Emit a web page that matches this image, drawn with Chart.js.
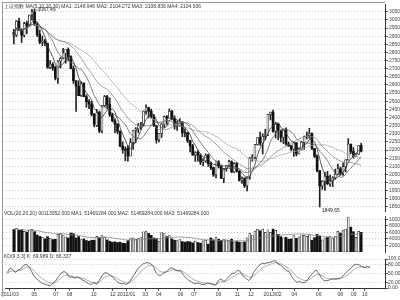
<!DOCTYPE html>
<html>
<head>
<meta charset="utf-8">
<script src="https://cdn.jsdelivr.net/npm/chart.js@4/dist/chart.umd.min.js"></script>
<style>
  body { margin: 0; background: #fff; width: 400px; height: 300px; overflow: hidden; position: relative; font-family: "Liberation Sans", Arial, sans-serif; }
  canvas { position: absolute; left: 0; }
  .lbl { position: absolute; left: 4px; font-size: 5px; line-height: 5px; color: #333; white-space: nowrap; }
  .rule { position: absolute; background: #999; }
</style>
</head>
<body>
<canvas id="priceChart" width="400" height="216" style="top:0"></canvas>
<canvas id="volChart" width="400" height="44" style="top:212px"></canvas>
<canvas id="kdChart" width="400" height="46" style="top:254px"></canvas>
<div class="rule" style="left:2px;top:2px;width:1px;height:295px"></div>
<div class="rule" style="left:2px;top:2px;width:383px;height:1px"></div>
<div class="lbl" style="top:4px">上证指数 MA(5,10,20,30) MA1: 2148.946 MA2: 2104.272 MA3: 2108.836 MA4: 2104.936</div>
<div class="lbl" style="top:211px">VOL(20,20,20) 90113052.000 MA1: 51469284.000 MA2: 51469284.000 MA3: 51469284.000</div>
<div class="lbl" style="top:254px">KD(9,3,3) K: 69.989 D: 66.337</div>
<script>
// weekly bars, Shanghai composite, 2011/02 - 2013/10
const weeks = [
  '2011/02/21','2011/02/28','2011/03/07','2011/03/14','2011/03/21','2011/03/28','2011/04/06','2011/04/11','2011/04/18','2011/04/25',
  '2011/05/03','2011/05/09','2011/05/16','2011/05/23','2011/05/30','2011/06/07','2011/06/13','2011/06/20','2011/06/27','2011/07/04',
  '2011/07/11','2011/07/18','2011/07/25','2011/08/01','2011/08/08','2011/08/15','2011/08/22','2011/08/29','2011/09/05','2011/09/13',
  '2011/09/19','2011/09/26','2011/10/10','2011/10/17','2011/10/24','2011/10/31','2011/11/07','2011/11/14','2011/11/21','2011/11/28',
  '2011/12/05','2011/12/12','2011/12/19','2011/12/26','2012/01/04','2012/01/09','2012/01/16','2012/01/30','2012/02/06','2012/02/13',
  '2012/02/20','2012/02/27','2012/03/05','2012/03/12','2012/03/19','2012/03/26','2012/04/05','2012/04/09','2012/04/16','2012/04/23',
  '2012/05/02','2012/05/07','2012/05/14','2012/05/21','2012/05/28','2012/06/04','2012/06/11','2012/06/18','2012/06/25','2012/07/02',
  '2012/07/09','2012/07/16','2012/07/23','2012/07/30','2012/08/06','2012/08/13','2012/08/20','2012/08/27','2012/09/03','2012/09/10',
  '2012/09/17','2012/09/24','2012/10/08','2012/10/15','2012/10/22','2012/10/29','2012/11/05','2012/11/12','2012/11/19','2012/11/26',
  '2012/12/03','2012/12/10','2012/12/17','2012/12/24','2012/12/31','2013/01/07','2013/01/14','2013/01/21','2013/01/28','2013/02/04',
  '2013/02/18','2013/02/25','2013/03/04','2013/03/11','2013/03/18','2013/03/25','2013/04/01','2013/04/08','2013/04/15','2013/04/22',
  '2013/05/02','2013/05/06','2013/05/13','2013/05/20','2013/05/27','2013/06/03','2013/06/13','2013/06/17','2013/06/24','2013/07/01',
  '2013/07/08','2013/07/15','2013/07/22','2013/07/29','2013/08/05','2013/08/12','2013/08/19','2013/08/26','2013/09/02','2013/09/09',
  '2013/09/16','2013/09/23','2013/09/30','2013/10/08','2013/10/14'
];
const open = [
  2925,2906,2993,2940,2905,2981,2970,3032,3049,2972,
  2912,2863,2870,2855,2708,2727,2706,2640,2746,2762,
  2795,2818,2775,2700,2626,2593,2535,2612,2528,2497,
  2482,2420,2350,2431,2317,2473,2528,2481,2416,2380,
  2360,2315,2224,2205,2212,2163,2245,2320,2330,2351,
  2357,2439,2460,2439,2404,2349,2262,2302,2359,2406,
  2396,2438,2394,2345,2350,2373,2308,2306,2260,2225,
  2170,2185,2168,2125,2133,2168,2116,2092,2047,2128,
  2102,2026,2086,2104,2128,2066,2117,2069,2014,2026,
  1980,2033,2150,2153,2233,2276,2243,2284,2292,2419,
  2433,2314,2359,2319,2278,2328,2237,2225,2206,2245,
  2177,2205,2247,2283,2288,2301,2210,2162,2073,1979,
  2007,2039,1992,2010,2029,2052,2085,2057,2098,2139,
  2236,2191,2160,2175,2228
];
const high = [
  2942,2997,3012,2945,2986,2993,3030,3065,3067.46,2986,
  2938,2900,2880,2858,2750,2738,2716,2750,2771,2826,
  2820,2828,2780,2717,2626,2626,2620,2612,2539,2510,
  2500,2425,2450,2440,2474,2536,2536,2520,2426,2392,
  2362,2318,2250,2220,2227,2271,2320,2338,2364,2370,
  2441,2478,2464,2451,2419,2352,2302,2367,2409,2412,
  2453,2444,2410,2380,2393,2374,2330,2310,2260,2235,
  2190,2197,2176,2147,2177,2175,2126,2094,2128,2135,
  2104,2087,2106,2138,2134,2123,2124,2073,2035,2030,
  2037,2155,2172,2235,2276,2311,2300,2328,2420,2433,
  2445,2369,2363,2322,2330,2336,2249,2230,2249,2245,
  2210,2253,2285,2311,2334,2305,2210,2170,2074,2012,
  2063,2069,2046,2036,2083,2114,2096,2122,2141,2270,
  2237,2215,2178,2229,2242
];
const low = [
  2853,2898,2934,2861,2895,2915,2965,2998,2965,2898,
  2854,2842,2840,2703,2700,2690,2631,2610,2704,2760,
  2734,2747,2698,2610,2437,2534,2530,2528,2463,2455,
  2410,2342,2344,2307,2307,2466,2455,2406,2373,2307,
  2300,2220,2180,2134,2132,2163,2204,2244,2307,2327,
  2349,2420,2397,2396,2344,2242,2250,2277,2340,2355,
  2396,2385,2328,2320,2345,2282,2280,2246,2188,2167,
  2130,2132,2110,2102,2123,2100,2079,2038,2029,2090,
  2024,1999,2070,2096,2060,2060,2064,2008,1995,1969,
  1949,2020,2131,2146,2230,2229,2176,2263,2289,2385,
  2310,2273,2263,2250,2240,2230,2222,2195,2161,2163,
  2176,2200,2203,2268,2272,2202,2153,2065,1849.65,1958,
  1951,1988,1976,1975,2020,2049,2045,2044,2066,2137,
  2178,2150,2160,2172,2188
];
const close = [
  2905,2993,2944,2906,2977,2967,3030,3050,2975,2911,
  2863,2871,2858,2709,2728,2705,2642,2746,2762,2797,
  2820,2775,2701,2626,2593,2534,2612,2528,2497,2482,
  2420,2359,2431,2317,2473,2528,2481,2416,2380,2360,
  2315,2224,2205,2199,2163,2245,2319,2330,2351,2357,
  2439,2460,2439,2404,2349,2262,2302,2359,2406,2396,
  2438,2394,2345,2350,2373,2308,2306,2260,2225,2170,
  2185,2168,2125,2133,2168,2116,2092,2047,2128,2102,
  2026,2086,2104,2128,2066,2117,2069,2014,2026,1980,
  2033,2150,2153,2233,2276,2243,2284,2292,2419,2433,
  2314,2359,2319,2278,2328,2237,2225,2206,2245,2177,
  2205,2247,2283,2288,2301,2210,2162,2073,1979,2007,
  2039,1992,2010,2029,2052,2085,2057,2098,2139,2236,
  2191,2160,2175,2228,2193
];
// weekly volume, x10000
const volume = [
  6900,7200,6600,6800,6300,6100,6700,6900,6200,5200,
  4800,4500,4000,4700,4200,3800,3900,5400,5700,5200,
  4600,4300,5800,5600,4300,4700,3800,4000,3500,3300,
  3600,3600,4800,4400,5000,4600,3700,3300,3000,3100,
  2900,3000,2700,2600,3500,4100,4300,3900,4100,4400,
  6200,6400,5700,5100,4300,4100,3300,5900,5600,4700,
  5000,4000,3600,3500,3800,3200,3000,3200,3100,2800,
  3300,2900,2700,3400,3600,2400,4300,3700,4500,3900,
  3600,3800,3700,3600,3900,3100,3200,3000,2900,3100,
  4300,5800,5200,6400,6900,6500,7100,6000,6800,6000,
  7000,6600,5400,4700,4300,4500,3900,4000,5000,4200,
  4600,5200,5100,4800,5300,3600,4400,5400,4900,3700,
  4300,4500,4700,4100,4900,6300,5800,6700,7000,10500,
  7600,6200,4500,6300,6000
];
const maPeriods = [5, 10, 20, 30];
const maColors = ['#333', '#666', '#888', '#aaa'];
const priceTicks = [1850,1900,1950,2000,2050,2100,2150,2200,2250,2300,2350,2400,2450,2500,2550,2600,2650,2700,2750,2800,2850,2900,2950,3000,3050];
const volumeTicks = [2000, 4000, 6000, 8000, 10000];
const kdTicks = [0, 20, 50, 80, 100];
// week index -> month label on the time axis
const monthTicks = [
  [1,'2011/03'],[10,'05'],[18,'07'],[23,'08'],[32,'10'],[39,'12'],
  [44,'2012/01'],[51,'03'],[56,'04'],[64,'06'],[69,'07'],[78,'09'],[85,'11'],[90,'12'],
  [98,'2013/02'],[106,'04'],[115,'06'],[123,'08'],[128,'09'],[132,'10']
];

function movingAverage(arr, n) {
  return arr.map((v, i) => {
    const s = arr.slice(Math.max(0, i - n + 1), i + 1);
    return s.reduce((a, b) => a + b, 0) / s.length;
  });
}

// KD(9,3,3)
let kPrev = 50, dPrev = 50;
const kLine = [], dLine = [];
close.forEach((c, i) => {
  const from = Math.max(0, i - 8);
  const hh = Math.max(...high.slice(from, i + 1));
  const ll = Math.min(...low.slice(from, i + 1));
  const rsv = hh === ll ? 50 : (c - ll) / (hh - ll) * 100;
  kPrev = kPrev * 2 / 3 + rsv / 3;
  dPrev = dPrev * 2 / 3 + kPrev / 3;
  kLine.push(kPrev);
  dLine.push(dPrev);
});

const isUp = close.map((c, i) => c >= open[i]);
const xMin = -0.5, xMax = 139.5;
const tickFont = { family: '"Liberation Sans", Arial', size: 5 };

function rightAxis(extra) {
  return Object.assign({
    position: 'right',
    afterFit: s => { s.width = 15; },
    grid: { color: '#c8c8c8', tickLength: 3, tickColor: '#555' },
    border: { display: true, color: '#333', dash: [1, 2] },
    ticks: { font: tickFont, color: '#444', padding: 1, autoSkip: false, callback: v => String(v) }
  }, extra);
}

function xAxis(show) {
  return {
    type: 'linear', min: xMin, max: xMax, display: show,
    afterBuildTicks: s => { s.ticks = monthTicks.map(t => ({ value: t[0] })); },
    afterFit: s => { if (show) s.height = 12; },
    grid: { drawOnChartArea: false, tickLength: 3, color: '#555' },
    border: { color: '#333' },
    ticks: {
      font: tickFont, color: '#333', padding: 1, maxRotation: 0, autoSkip: false,
      callback: (v, i) => monthTicks[i] ? monthTicks[i][1] : ''
    }
  };
}

const baseOptions = {
  responsive: false, animation: false, devicePixelRatio: 1,
  plugins: { legend: { display: false }, tooltip: { enabled: false } }
};

const extremaLabels = {
  id: 'extremaLabels',
  afterDatasetsDraw(chart) {
    const { ctx, scales } = chart;
    const hi = high.indexOf(Math.max(...high));
    const lo = low.indexOf(Math.min(...low));
    ctx.save();
    ctx.font = '5px "Liberation Sans", Arial';
    ctx.fillStyle = '#222';
    ctx.strokeStyle = '#444';
    ctx.lineWidth = 0.6;
    let x = scales.x.getPixelForValue(hi), y = scales.y.getPixelForValue(high[hi]);
    ctx.beginPath(); ctx.moveTo(x + 1, y + 1); ctx.lineTo(x + 3, y + 1); ctx.stroke();
    ctx.textBaseline = 'middle';
    ctx.fillText(high[hi].toFixed(2), x + 3, y + 1);
    x = scales.x.getPixelForValue(lo); y = scales.y.getPixelForValue(low[lo]);
    ctx.textBaseline = 'top';
    ctx.fillText(low[lo].toFixed(2), x + 2, y + 1);
    ctx.restore();
  }
};

new Chart(document.getElementById('priceChart'), {
  data: {
    datasets: [
      {
        type: 'bar', grouped: false, order: 3, barThickness: 1,
        data: weeks.map((w, i) => ({ x: i, y: [low[i], high[i]] })),
        backgroundColor: '#222'
      },
      {
        type: 'bar', grouped: false, order: 2, barThickness: 2,
        data: weeks.map((w, i) => ({ x: i, y: [open[i], close[i]] })),
        backgroundColor: isUp.map(u => u ? '#fff' : '#111'),
        borderColor: '#222', borderWidth: isUp.map(u => u ? 0.7 : 0), borderSkipped: false
      },
      ...maPeriods.map((p, k) => ({
        type: 'line', order: 1,
        data: movingAverage(close, p).map((v, i) => ({ x: i, y: v })),
        borderColor: maColors[k], borderWidth: 0.8, pointRadius: 0, tension: 0
      }))
    ]
  },
  options: Object.assign({}, baseOptions, {
    layout: { padding: { left: 3, top: 3, bottom: 5, right: 0 } },
    scales: {
      x: xAxis(false),
      y: rightAxis({
        min: 1825, max: 3098,
        afterBuildTicks: s => { s.ticks = priceTicks.map(v => ({ value: v })); }
      })
    }
  }),
  plugins: [extremaLabels]
});

new Chart(document.getElementById('volChart'), {
  data: {
    datasets: [
      {
        type: 'bar', grouped: false, order: 2, barThickness: 2,
        data: volume.map((v, i) => ({ x: i, y: v })),
        backgroundColor: isUp.map(u => u ? '#fff' : '#111'),
        borderColor: '#222', borderWidth: isUp.map(u => u ? 0.7 : 0), borderSkipped: false
      },
      {
        type: 'line', order: 1,
        data: movingAverage(volume, 20).map((v, i) => ({ x: i, y: v })),
        borderColor: '#888', borderWidth: 0.8, pointRadius: 0
      }
    ]
  },
  options: Object.assign({}, baseOptions, {
    layout: { padding: { left: 3, top: 4, bottom: 2, right: 0 } },
    scales: {
      x: xAxis(false),
      y: rightAxis({
        min: 0, max: 11000,
        afterBuildTicks: s => { s.ticks = volumeTicks.map(v => ({ value: v })); }
      })
    }
  })
});

new Chart(document.getElementById('kdChart'), {
  type: 'line',
  data: {
    datasets: [
      { data: kLine.map((v, i) => ({ x: i, y: v })), borderColor: '#444', borderWidth: 0.8, pointRadius: 0 },
      { data: dLine.map((v, i) => ({ x: i, y: v })), borderColor: '#999', borderWidth: 0.8, pointRadius: 0 }
    ]
  },
  options: Object.assign({}, baseOptions, {
    layout: { padding: { left: 3, top: 5, bottom: 0, right: 0 } },
    scales: {
      x: xAxis(true),
      y: rightAxis({
        min: 0, max: 100,
        afterBuildTicks: s => { s.ticks = kdTicks.map(v => ({ value: v })); },
        ticks: { font: tickFont, color: '#444', padding: 0, autoSkip: false, callback: v => v.toFixed(2) }
      })
    }
  })
});
</script>
</body>
</html>
